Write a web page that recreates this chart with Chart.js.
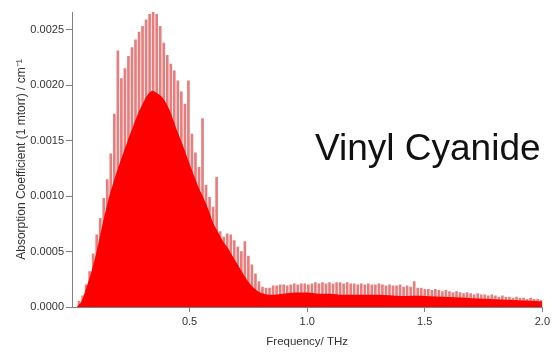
<!DOCTYPE html>
<html>
<head>
<meta charset="utf-8">
<script src="https://cdn.jsdelivr.net/npm/chart.js@4/dist/chart.umd.min.js"></script>
<style>
  html, body { margin: 0; padding: 0; background: #fff; }
  #wrap { position: relative; width: 553px; height: 353px; }
</style>
</head>
<body>
<div id="wrap"><canvas id="c" width="553" height="353"></canvas></div>
<script>
// ---- Data ----
const chartLabel = "Vinyl Cyanide";
const xTitle = "Frequency/ THz";
const yTitle = "Absorption Coefficient (1 mtorr) / cm\u207B\u00B9";

// Individual (taller) line tips
const tipFreqs = [0.030,0.045,0.060,0.075,0.090,0.105,0.120,0.135,0.150,0.165,
0.180,0.195,0.210,0.225,0.240,0.255,0.270,0.285,0.300,0.315,
0.330,0.345,0.360,0.375,0.390,0.405,0.420,0.435,0.450,0.465,
0.480,0.495,0.510,0.525,0.540,0.555,0.570,0.585,0.600,0.615,
0.630,0.645,0.660,0.675,0.690,0.705,0.720,0.735,0.750,0.765,
0.780,0.795,0.810,0.825,0.840,0.855,0.870,0.885,0.900,0.915,
0.930,0.945,0.960,0.975,0.990,1.005,1.020,1.035,1.050,1.065,
1.080,1.095,1.110,1.125,1.140,1.155,1.170,1.185,1.200,1.215,
1.230,1.245,1.260,1.275,1.290,1.305,1.320,1.335,1.350,1.365,
1.380,1.395,1.410,1.425,1.440,1.455,1.470,1.485,1.500,1.515,
1.530,1.545,1.560,1.575,1.590,1.605,1.620,1.635,1.650,1.665,
1.680,1.695,1.710,1.725,1.740,1.755,1.770,1.785,1.800,1.815,
1.830,1.845,1.860,1.875,1.890,1.905,1.920,1.935,1.950,1.965,
1.980,1.995];
const tipHeights = [0.00005,0.00010,0.00020,0.00032,0.00048,0.00065,0.00080,0.00098,0.00115,0.00138,
0.00174,0.00231,0.00206,0.00215,0.00226,0.00234,0.00241,0.00248,0.00253,0.00259,
0.00264,0.00266,0.00264,0.00253,0.00238,0.00227,0.00219,0.00213,0.00204,0.00194,
0.00183,0.00204,0.00156,0.00139,0.00126,0.00170,0.00110,0.00099,0.00090,0.00117,
0.00068,0.00063,0.00066,0.00065,0.00060,0.00054,0.00050,0.00059,0.00046,0.00038,
0.00030,0.00023,0.00018,0.00017,0.00017,0.00019,0.00019,0.00020,0.00020,0.00019,
0.00020,0.00021,0.00020,0.00021,0.00021,0.00020,0.00021,0.00022,0.00021,0.00022,
0.00021,0.00022,0.00021,0.00022,0.00022,0.00021,0.00022,0.00021,0.00021,0.00020,
0.00021,0.00020,0.00021,0.00020,0.00020,0.00021,0.00020,0.00019,0.00020,0.00019,
0.00019,0.00020,0.00018,0.00019,0.00018,0.00023,0.00017,0.00017,0.00016,0.00016,
0.00015,0.00016,0.00015,0.00014,0.00015,0.00014,0.00013,0.00014,0.00013,0.00012,
0.00013,0.00012,0.00011,0.00012,0.00011,0.00011,0.00010,0.00011,0.00010,0.00009,
0.00010,0.00009,0.00009,0.00008,0.00009,0.00008,0.00008,0.00007,0.00008,0.00007,
0.00007,0.00006];

// Dense (solid) band of lines
const baseFreqs = [0.02,0.04,0.06,0.08,0.10,0.12,0.14,0.16,0.18,0.20,
0.22,0.24,0.26,0.28,0.30,0.32,0.34,0.36,0.38,0.40,
0.42,0.44,0.46,0.48,0.50,0.52,0.54,0.56,0.58,0.60,
0.62,0.64,0.66,0.68,0.70,0.72,0.74,0.76,0.78,0.80,
0.84,0.90,0.95,1.00,1.05,1.10,1.15,1.20,1.30,1.40,
1.50,1.60,1.70,1.80,1.90,2.00];
const baseHeights = [0.00000,0.00005,0.00017,0.00030,0.00046,0.00065,0.00084,0.00101,0.00115,0.00128,
0.00140,0.00152,0.00163,0.00174,0.00183,0.00191,0.00195,0.00193,0.00190,0.00184,
0.00175,0.00163,0.00152,0.00141,0.00129,0.00118,0.00107,0.00098,0.00088,0.00076,
0.00068,0.00060,0.00054,0.00047,0.00040,0.00033,0.00026,0.00020,0.00016,0.00013,
0.00011,0.00012,0.00013,0.00013,0.00012,0.00012,0.00011,0.00011,0.00011,0.00010,
0.00010,0.00009,0.00008,0.00007,0.00006,0.00005];

const xTicks = [0.5, 1.0, 1.5, 2.0];
const yTicks = [0.0000, 0.0005, 0.0010, 0.0015, 0.0020, 0.0025];

// ---- Build datasets ----
const tipData = tipFreqs.map((f, i) => ({ x: f, y: tipHeights[i] }));
const baseData = baseFreqs.map((f, i) => ({ x: f, y: baseHeights[i] }));

const labelPlugin = {
  id: 'bigLabel',
  afterDraw(chart) {
    const ctx = chart.ctx;
    ctx.save();
    ctx.font = '37px "Liberation Sans", Arial, sans-serif';
    ctx.fillStyle = '#111';
    ctx.textBaseline = 'alphabetic';
    ctx.textAlign = 'left';
    ctx.fillText(chartLabel, 315, 160);
    ctx.restore();
  }
};

const font = { family: '"Liberation Sans", Arial, sans-serif', size: 11 };

new Chart(document.getElementById('c'), {
  type: 'bar',
  data: {
    datasets: [
      {
        type: 'line',
        data: baseData,
        backgroundColor: '#ff0000',
        borderColor: '#ff0000',
        borderWidth: 0,
        pointRadius: 0,
        fill: 'origin',
        tension: 0.3
      },
      {
        type: 'bar',
        data: tipData,
        backgroundColor: 'rgba(215,40,40,0.6)',
        barThickness: 2,
        borderWidth: 0
      }
    ]
  },
  options: {
    responsive: false,
    animation: false,
    devicePixelRatio: 1,
    layout: { padding: { left: 14, right: 10, top: 12, bottom: 0 } },
    plugins: { legend: { display: false }, tooltip: { enabled: false } },
    scales: {
      x: {
        type: 'linear',
        min: 0,
        max: 2.0,
        offset: false,
        afterBuildTicks: (s) => { s.ticks = xTicks.map(v => ({ value: v })); },
        afterFit: (s) => { s.height = 46; },
        ticks: {
          color: '#333',
          font: font,
          padding: 3,
          maxRotation: 0,
          callback: (v) => Number(v).toFixed(1)
        },
        grid: { offset: false, drawOnChartArea: false, drawTicks: true, tickLength: 5, color: '#808080' },
        border: { color: '#808080', width: 1 },
        title: { display: true, text: xTitle, color: '#333', font: { family: font.family, size: 11.5 }, padding: { top: 0, bottom: 4 } }
      },
      y: {
        min: 0,
        max: 0.00266,
        afterBuildTicks: (s) => { s.ticks = yTicks.map(v => ({ value: v })); },
        afterFit: (s) => { s.width = 58; },
        ticks: {
          color: '#333',
          font: font,
          padding: 2,
          callback: (v) => Number(v).toFixed(4)
        },
        grid: { drawOnChartArea: false, drawTicks: true, tickLength: 6, color: '#808080' },
        border: { color: '#808080', width: 1 },
        title: { display: true, text: yTitle, color: '#333', font: { family: font.family, size: 12 }, padding: { top: 0, bottom: 2 } }
      }
    }
  },
  plugins: [labelPlugin]
});
</script>
</body>
</html>
